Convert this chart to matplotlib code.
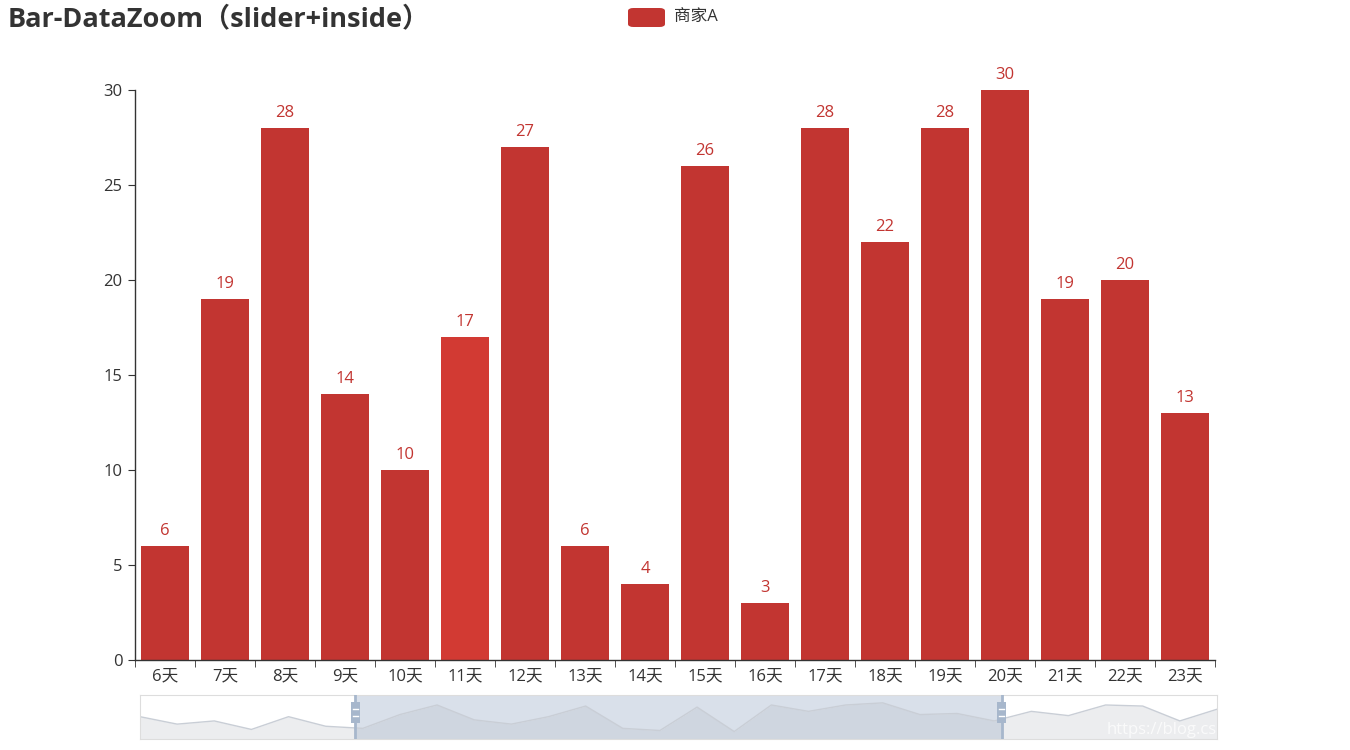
import matplotlib
matplotlib.use("Agg")
import matplotlib.pyplot as plt
from matplotlib.patches import FancyBboxPatch, Rectangle
import numpy as np

plt.rcParams['font.family'] = ['Open Sans', 'Noto Sans CJK SC', 'DejaVu Sans']

# full series (dataZoom shows 20% - 80%)
days = [f"{i}天" for i in range(30)]
values = [17, 10, 13, 5, 17, 8, 6, 19, 28, 14, 10, 17, 27, 6, 4,
          26, 3, 28, 22, 28, 30, 19, 20, 13, 22, 18, 28, 27, 13, 24]
zoom_start, zoom_end = 20, 80
series_name = "商家A"
title = "Bar-DataZoom（slider+inside）"

RED = "#c23531"
HOVER_RED = "#d23a33"
TXT = "#333333"

n = len(values)
i0 = int(np.ceil(zoom_start / 100 * (n - 1)))
i1 = int(np.floor(zoom_end / 100 * (n - 1)))
vis_days = days[i0:i1 + 1]
vis_vals = values[i0:i1 + 1]

W, H = 1350, 750
fig = plt.figure(figsize=(W / 100, H / 100), dpi=100, facecolor='white')

# main bar chart
ax = fig.add_axes([135 / W, 1 - 660 / H, 1080 / W, 570 / H])
x = np.arange(len(vis_vals))
colors = [RED] * len(vis_vals)
colors[vis_days.index("11天")] = HOVER_RED  # hovered bar in the screenshot
bars = ax.bar(x, vis_vals, width=0.8, color=colors, zorder=2)
for b, v in zip(bars, vis_vals):
    ax.annotate(str(v), (b.get_x() + b.get_width() / 2, v), xytext=(0, 5),
                textcoords='offset points', ha='center', va='bottom',
                color=RED, fontsize=12)

ax.set_xlim(-0.5, len(vis_vals) - 0.5)
ax.set_ylim(0, 30)
ax.set_yticks([0, 5, 10, 15, 20, 25, 30])
ax.set_xticks(x)
ax.set_xticklabels(vis_days)
ax.set_xticks(np.arange(-0.5, len(vis_vals)), minor=True)
ax.tick_params(axis='x', which='major', length=0, pad=6, labelsize=12, labelcolor=TXT)
ax.tick_params(axis='x', which='minor', length=5, color=TXT, direction='out')
ax.tick_params(axis='y', length=5, color=TXT, labelsize=12, labelcolor=TXT, pad=4)
for s in ['top', 'right']:
    ax.spines[s].set_visible(False)
for s in ['left', 'bottom']:
    ax.spines[s].set_color(TXT)
    ax.spines[s].set_linewidth(1)

# title and legend
fig.text(8 / W, 1 - 19 / H, title, fontsize=19.5, fontweight='bold',
         color=TXT, ha='left', va='center')
fig.patches.append(FancyBboxPatch((628 / W, 1 - 27 / H), 37 / W, 19 / H,
                                  boxstyle="round,pad=0,rounding_size=0.004",
                                  transform=fig.transFigure, facecolor=RED,
                                  edgecolor='none'))
fig.text(674 / W, 1 - 17 / H, series_name, fontsize=12, color=TXT,
         ha='left', va='center')

# dataZoom slider
sx = fig.add_axes([140 / W, 1 - 739 / H, 1077 / W, 44 / H])
idx = np.arange(n)
lo, hi = zoom_start / 100 * (n - 1), zoom_end / 100 * (n - 1)
ybot, ytop = -4, 37.4
sx.set_xlim(0, n - 1)
sx.set_ylim(ybot, ytop)
sx.fill_between(idx, values, ybot, color='#ecedef', lw=0, zorder=1)
sx.plot(idx, values, color='#c9ced6', lw=1, zorder=2)
sx.axvspan(lo, hi, color='#d9e0ea', lw=0, zorder=0)
sel_x = np.concatenate([[lo], idx[(idx > lo) & (idx < hi)], [hi]])
sel_y = np.interp(sel_x, idx, values)
sx.fill_between(sel_x, sel_y, ybot, color='#cfd6e0', lw=0, zorder=1.5)
for h in (lo, hi):
    sx.axvline(h, color='#a7b7cc', lw=2, zorder=4)
    sx.add_patch(Rectangle((h - 0.12, 11.5), 0.24, 19, facecolor='#a7b7cc',
                           edgecolor='none', zorder=5))
    for yy in (17.5, 24.5):
        sx.plot([h - 0.07, h + 0.07], [yy, yy], color='white', lw=1, zorder=6)
sx.set_xticks([])
sx.set_yticks([])
for s in sx.spines.values():
    s.set_color('#dddddd')
sx.text(1.0, 0.2, "https://blog.cs", transform=sx.transAxes, ha='right',
        va='center', color='white', alpha=0.75, fontsize=12, zorder=7, clip_on=True)

fig.savefig("out.png", dpi=100, facecolor='white')
